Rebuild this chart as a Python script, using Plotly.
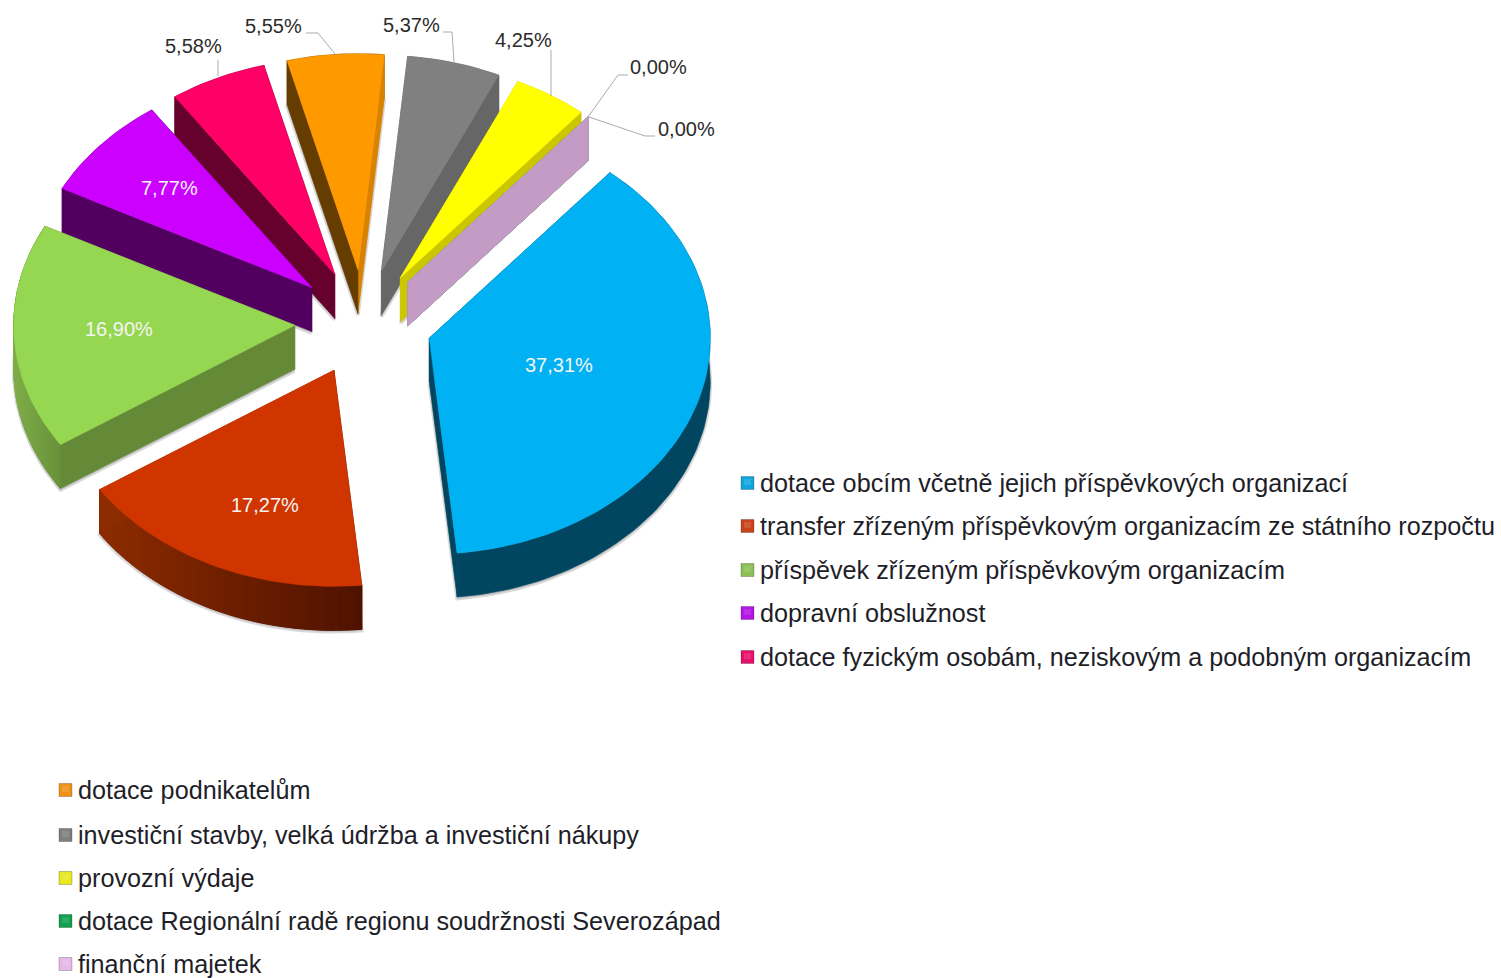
import math
import plotly.graph_objects as go

# ---- data -------------------------------------------------------------
categories = [
    "dotace obcím včetně jejich příspěvkových organizací",
    "transfer zřízeným příspěvkovým organizacím ze státního rozpočtu",
    "příspěvek zřízeným příspěvkovým organizacím",
    "dopravní obslužnost",
    "dotace fyzickým osobám, neziskovým a podobným organizacím",
    "dotace podnikatelům",
    "investiční stavby, velká údržba a investiční nákupy",
    "provozní výdaje",
    "dotace Regionální radě regionu soudržnosti Severozápad",
    "finanční majetek",
]
shares = [37.31, 17.27, 16.90, 7.77, 5.58, 5.55, 5.37, 4.25, 0.00, 0.00]

top_colors = ["#00B2F3", "#D03500", "#96D751", "#CC00FF", "#FF0066",
              "#FF9900", "#808080", "#FFFF00", "#00A651", "#C39BC5"]
start_wall_colors = ["#004661", "#4F1200", "#658A37", "#52005F", "#66002C",
                     "#663D00", "#666666", "#CCC600", "#00A651", "#C39BC5"]
end_wall_colors = ["#004661", "#8C2C00", "#658A37", "#52005F", "#66002C",
                   "#D88200", "#666666", "#CCC600", "#00A651", "#C39BC5"]
arc_wall_left = ["#004661", "#8C2C00", "#7FAE48", "#52005F", "#66002C",
                 "#663D00", "#666666", "#CCC600", "#00A651", "#C39BC5"]
arc_wall_right = ["#004661", "#4F1200", "#69903A", "#52005F", "#66002C",
                  "#663D00", "#666666", "#CCC600", "#00A651", "#C39BC5"]
swatch_colors = ["#0FA5DC", "#C8431A", "#8CBF55", "#B414E6", "#E6106A",
                 "#F0921A", "#7F7F7F", "#E8E81E", "#0FA050", "#E6B8E8"]

# ---- layout constants --------------------------------------------------
W, H = 1501, 978
CX, CY = 363.5, 322.5  # pie centre on the page
RX, RY = 281, 216      # tilted pie radii
PULL = 0.245           # explosion as a fraction of the radius
DEPTH = 44             # extrusion of the pie
FIRST_ANGLE = 40       # degrees clockwise from 12 o'clock
DRAW_ORDER = [5, 4, 3, 2, 6, 7, 8, 9, 1, 0]

# annotation anchors for the data labels, same order as categories
label_anchor = [(559, 365), (265, 505), (119, 329), (169, 188), (193, 46),
                (273, 26), (411, 25), (523, 40), (658, 67), (686, 129)]
label_inside = [True, True, True, True, False, False, False, False, False, False]
leaders = [
    [(218, 60), (218, 76)],
    [(306, 33), (318, 33), (335, 54)],
    [(443, 32), (452, 32), (454, 62)],
    [(551, 50), (551, 96)],
    [(628, 75), (618, 75), (588, 117)],
    [(655, 136), (645, 136), (589, 117)],
]
legend_rows = [(741, 483), (741, 526), (741, 570), (741, 613), (741, 657),
               (59, 790), (59, 835), (59, 878), (59, 921), (59, 964)]


def hex_rgb(c):
    return tuple(int(c[i:i + 2], 16) for i in (1, 3, 5))


def mix(a, b, t):
    ra, rb = hex_rgb(a), hex_rgb(b)
    return "rgb(%d,%d,%d)" % tuple(round(ra[i] + (rb[i] - ra[i]) * t) for i in range(3))


def ell(theta, apex, dy=0.0):
    t = math.radians(theta)
    return apex[0] + RX * math.sin(t), apex[1] - RY * math.cos(t) + dy


fig = go.Figure()


def poly(points, color, line=None, width=0.6):
    xs = [p[0] for p in points] + [points[0][0]]
    ys = [p[1] for p in points] + [points[0][1]]
    fig.add_trace(go.Scatter(
        x=xs, y=ys, mode="lines", fill="toself", fillcolor=color,
        line=dict(color=line or color, width=width), hoverinfo="skip", showlegend=False,
    ))


# slice angles come from the shares
angles = []
a = FIRST_ANGLE
for v in shares:
    angles.append((a, a + v * 3.6))
    a += v * 3.6

for i in DRAW_ORDER:
    a0, a1 = angles[i]
    mid = math.radians((a0 + a1) / 2)
    apex = (CX + PULL * RX * math.sin(mid), CY - PULL * RY * math.cos(mid))
    n = max(2, int(abs(a1 - a0) / 1.5))
    thetas = [a0 + (a1 - a0) * k / n for k in range(n + 1)]
    rim = [ell(t, apex) for t in thetas]
    low = [ell(t, apex, DEPTH) for t in thetas]
    lower_apex = (apex[0], apex[1] + DEPTH)
    has_area = a1 > a0

    # soft shadow round the lower face
    if has_area:
        shadow = [(p[0], p[1] + 1.5) for p in [lower_apex] + low]
        poly(shadow, "rgba(120,120,120,0.28)", "rgba(120,120,120,0.28)", 3.5)

    # outer wall first, then the radial walls, then the top face
    if has_area:
        poly(rim + low[::-1], mix(arc_wall_left[i], arc_wall_right[i], 0.5))
        xmin = min(p[0] for p in rim)
        xmax = max(p[0] for p in rim)
        if arc_wall_left[i] != arc_wall_right[i]:
            for k in range(n):
                tx = ((rim[k][0] + rim[k + 1][0]) / 2 - xmin) / max(1, xmax - xmin)
                poly([rim[k], rim[k + 1], low[k + 1], low[k]],
                     mix(arc_wall_left[i], arc_wall_right[i], tx), width=1.0)
    start_wall = [apex, rim[0], low[0], lower_apex]
    end_wall = [apex, rim[-1], low[-1], lower_apex]
    if math.sin(mid) < 0:
        poly(end_wall, end_wall_colors[i])
        poly(start_wall, start_wall_colors[i])
    else:
        poly(start_wall, start_wall_colors[i])
        poly(end_wall, end_wall_colors[i])
    if has_area:
        poly([apex] + rim, top_colors[i])

# data labels
annotations = []
for i, v in enumerate(shares):
    x, y = label_anchor[i]
    annotations.append(dict(
        x=x, y=y, xref="x", yref="y", showarrow=False, xanchor="center", yanchor="middle",
        text=f"{v:.2f}".replace(".", ",") + "%",
        font=dict(family="Liberation Sans", size=20,
                  color="#F4F4F4" if label_inside[i] else "#2B2B2B"),
    ))

# legend text and swatches
shapes = []
for i, name in enumerate(categories):
    x, y = legend_rows[i]
    annotations.append(dict(
        x=x + 17, y=y, xref="x", yref="y", showarrow=False, xanchor="left", yanchor="middle",
        text=name, font=dict(family="Liberation Sans", size=25.2, color="#1E1E28"),
    ))
    shapes.append(dict(
        type="rect", xref="x", yref="y", x0=x, x1=x + 13, y0=y - 6.5, y1=y + 6.5,
        fillcolor=swatch_colors[i], line=dict(color="rgba(0,0,0,0.22)", width=1),
    ))
    shapes.append(dict(
        type="rect", xref="x", yref="y", x0=x + 3, x1=x + 10, y0=y - 4, y1=y + 2,
        fillcolor="rgba(255,255,255,0.12)", line=dict(width=0),
    ))

for path in leaders:
    d = "M " + " L ".join(f"{px} {py}" for px, py in path)
    shapes.append(dict(type="path", xref="x", yref="y", path=d,
                       line=dict(color="#ABABAB", width=1)))

fig.update_layout(
    width=W, height=H, margin=dict(l=0, r=0, t=0, b=0, pad=0),
    paper_bgcolor="white", plot_bgcolor="white", showlegend=False,
    xaxis=dict(range=[0, W], visible=False, fixedrange=True),
    yaxis=dict(range=[H, 0], visible=False, fixedrange=True),
    annotations=annotations, shapes=shapes,
)
fig.write_html("out.html", config={"displayModeBar": False}, post_script=(
    "document.body.style.margin='0';document.body.style.overflow='hidden';"))
